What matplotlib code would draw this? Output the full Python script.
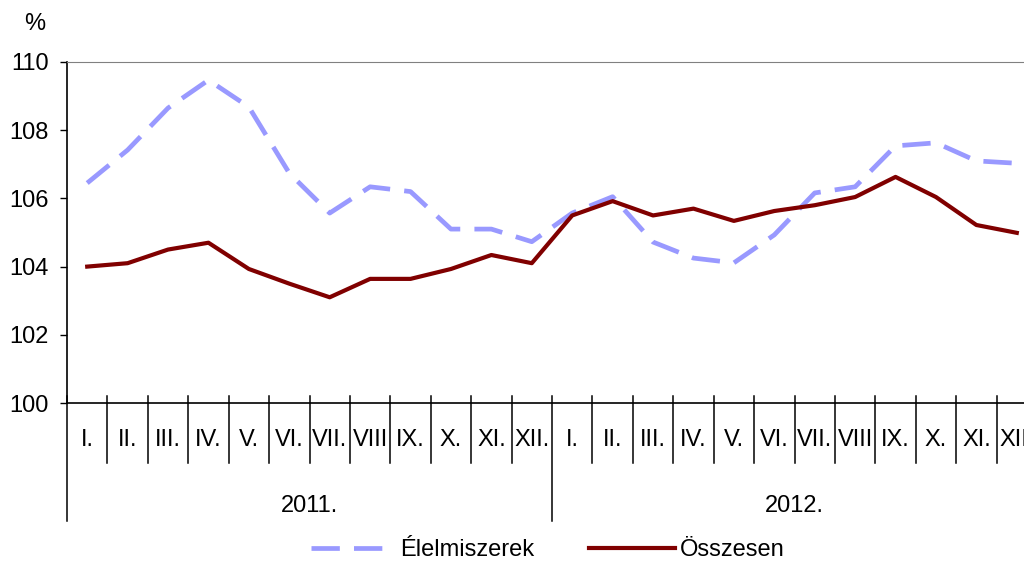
import matplotlib.pyplot as plt
import matplotlib.transforms as mtransforms

plt.rcParams["font.family"] = ["Liberation Sans Narrow", "Liberation Sans", "DejaVu Sans"]

months = ["I.", "II.", "III.", "IV.", "V.", "VI.", "VII.", "VIII", "IX.", "X.", "XI.", "XII."]
years = ["2011.", "2012."]

elelmiszerek = [106.45, 107.42, 108.65, 109.47, 108.68, 106.74, 105.57, 106.34, 106.2, 105.1, 105.1, 104.73,
                105.57, 106.05, 104.72, 104.25, 104.11, 104.93, 106.16, 106.34, 107.54, 107.63, 107.1, 107.03]
osszesen = [104.0, 104.1, 104.5, 104.7, 103.93, 103.5, 103.1, 103.64, 103.64, 103.93, 104.34, 104.1,
            105.5, 105.92, 105.5, 105.7, 105.34, 105.63, 105.8, 106.04, 106.63, 106.04, 105.22, 104.99]

labels = months * len(years)
x = list(range(len(labels)))
fs = 17

fig = plt.figure(figsize=(10.24, 5.61), dpi=100)
ax = fig.add_axes([67 / 1024, 1 - 403 / 561, 970 / 1024, 341 / 561])

l1, = ax.plot(x, elelmiszerek, color="#9999FF", lw=3.4, linestyle=(0, (6, 3)), label="Élelmiszerek")
l2, = ax.plot(x, osszesen, color="#800000", lw=3.0, label="Összesen")

ax.set_xlim(-0.5, len(labels) - 0.5)
ax.set_ylim(100, 110)
ax.set_yticks(range(100, 111, 2))
ax.tick_params(axis="y", direction="out", length=5, width=1, labelsize=fs, pad=8)
ax.set_xticks([])

ax.spines["right"].set_visible(False)
ax.spines["top"].set_color("#808080")
ax.spines["left"].set_linewidth(1.2)
ax.spines["bottom"].set_linewidth(1.2)

trans = mtransforms.blended_transform_factory(ax.transData, ax.transAxes)

# category separators
for i in range(len(labels) + 1):
    pos = i - 0.5
    bottom = -0.346 if i % 12 == 0 else -0.176
    ax.plot([pos, pos], [0.02, bottom], color="black", lw=1.1, transform=trans, clip_on=False)

for i, lab in enumerate(labels):
    ax.text(i, -0.108, lab, transform=trans, ha="center", va="center", fontsize=fs, clip_on=False)

for j, yr in enumerate(years):
    ax.text(j * 12 + 5.5, -0.302, yr, transform=trans, ha="center", va="center", fontsize=fs)

fig.text(35 / 1024, 1 - 24 / 561, "%", ha="center", va="center", fontsize=fs)

leg_y = 1 - 550 / 561
fig.legend(handles=[l1], loc="center left", bbox_to_anchor=(311 / 1024, leg_y), frameon=False,
           fontsize=fs, handlelength=3.1, handletextpad=0.68, borderpad=0, borderaxespad=0)
fig.legend(handles=[l2], loc="center left", bbox_to_anchor=(589 / 1024, leg_y), frameon=False,
           fontsize=fs, handlelength=3.65, handletextpad=0.2, borderpad=0, borderaxespad=0)

fig.savefig("out.png", dpi=100)
